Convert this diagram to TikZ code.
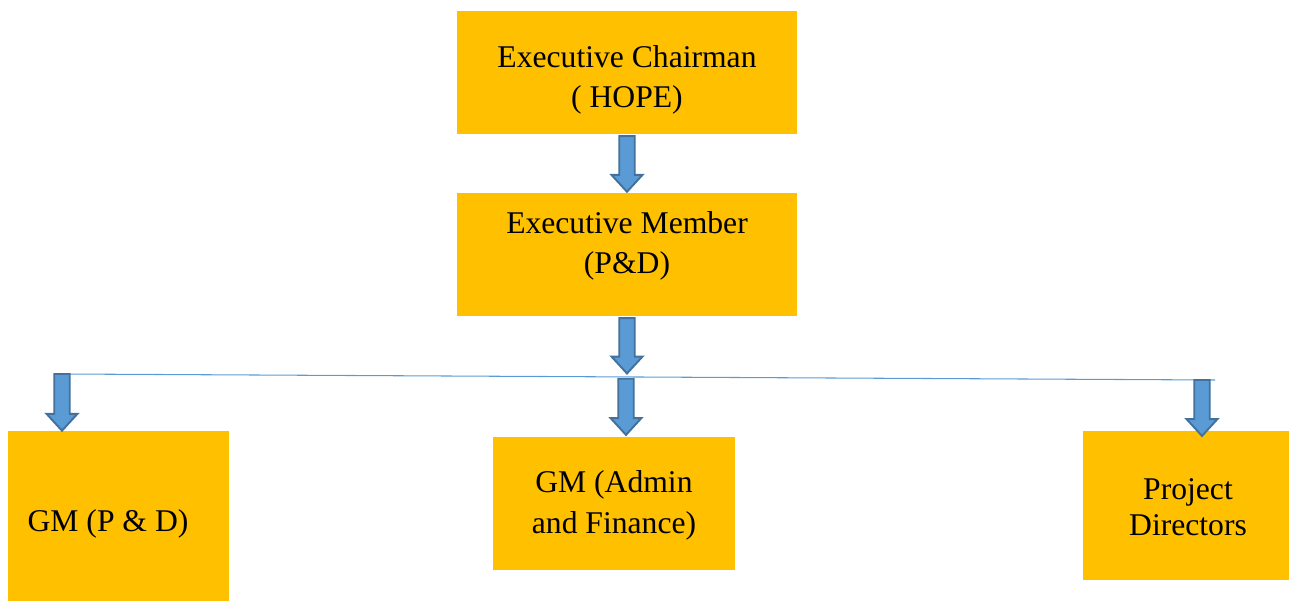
\documentclass[tikz,border=0pt]{standalone}
\usepackage{fontspec}
\setmainfont{Liberation Serif}
\usetikzlibrary{calc}
\definecolor{orangeboite}{HTML}{FFC000}
\definecolor{bleufleche}{HTML}{5B9BD5}
\definecolor{bordfleche}{HTML}{41719C}
\begin{document}
\begin{tikzpicture}[x=0.02cm,y=-0.02cm]
			\tikzstyle{boite}=[fill=orangeboite,inner sep=0pt]
			\tikzstyle{texte}=[align=center,font=\fontsize{18pt}{22.7pt}\selectfont]
			\tikzstyle{ligne}=[draw=bleufleche,line width=0.6pt]
			\tikzstyle{grossefleche}=[draw=bordfleche,fill=bleufleche,line width=1.1pt,line join=miter,
				to path={let \p1=(\tikztostart), \p2=(\tikztotarget) in
					(\x1-4.4pt,\y1) -- (\x1+4.4pt,\y1) -- (\x1+4.4pt,\y2+9.6pt) -- (\x1+8.8pt,\y2+9.6pt)
					-- (\x1,\y2) -- (\x1-8.8pt,\y2+9.6pt) -- (\x1-4.4pt,\y2+9.6pt) -- cycle}]
			\useasboundingbox (0,0) rectangle (1289,601);
			% boites
			\node[boite,minimum width=6.8cm,minimum height=2.46cm] (CH) at (627,72.5) {};
			\node[boite,minimum width=6.8cm,minimum height=2.46cm] (EM) at (627,254.5) {};
			\node[boite,minimum width=4.42cm,minimum height=3.4cm] (GP) at (118.5,516) {};
			\node[boite,minimum width=4.84cm,minimum height=2.66cm] (GA) at (614,503.5) {};
			\node[boite,minimum width=4.12cm,minimum height=2.98cm] (PD) at (1186,505.5) {};
			% textes
			\node[texte] (tCH) at (627,79.5) {Executive Chairman\\( HOPE)};
			\node[texte] (tEM) at (627,245.5) {Executive Member\\(P\&D)};
			\node[texte] (tGP) at (108,524) {GM (P \& D)};
			\node[texte] (tGA) at (614,505.5) {GM (Admin\\[1pt]and Finance)};
			\node[texte] (tPD) at (1188,507) {Project\\[-2.3pt]Directors};
			% ligne horizontale
			\coordinate (LG) at (62,374);
			\coordinate (LM) at (626,377);
			\coordinate (LD) at (1215,380);
			\coordinate (LP) at (1202,380);
			\draw[ligne] (LG) -- (LD);
			% fleches
			\draw[grossefleche] ([yshift=-1pt]CH.south) to ([yshift=0.5pt]EM.north);
			\draw[grossefleche] ([yshift=-1pt]EM.south) to ([yshift=2pt]LM);
			\draw[grossefleche] (LG) to (LG |- GP.north);
			\draw[grossefleche] ([yshift=-1pt]LM) to ([yshift=1pt]GA.north);
			\draw[grossefleche] (LP) to ([yshift=-3pt]LP |- PD.north);
\end{tikzpicture}
\end{document}
